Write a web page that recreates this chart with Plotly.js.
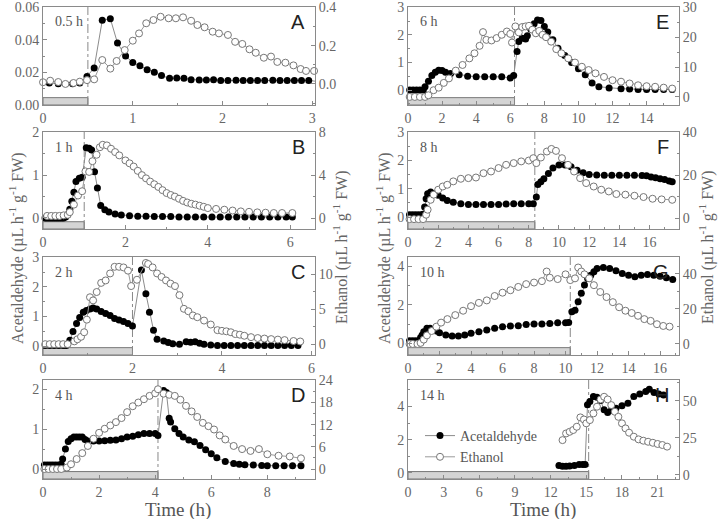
<!DOCTYPE html>
<html><head><meta charset="utf-8">
<script src="https://cdn.plot.ly/plotly-3.0.1.min.js"></script>
<style>html,body{margin:0;padding:0;background:#fff}#chart{width:720px;height:519px}</style>
</head><body><div id="chart"></div>
<script>
// ---------- DATA ----------
const panelLabels = ["A","B","C","D","E","F","G","H"];
const durationLabels = ["0.5 h","1 h","2 h","4 h","6 h","8 h","10 h","14 h"];
const treatmentEnd = [0.5, 1.0, 2.0, 4.1, 6.25, 8.4, 10.3, 15.2];

const tA_acet = [0.07,0.17,0.33,0.41,0.49,0.57,0.66,0.75,0.83,0.92,1.0,1.08,1.16,1.24,1.32,1.41,1.49,1.57,1.65,1.74,1.82,1.9,1.98,2.06,2.15,2.23,2.31,2.39,2.47,2.56,2.64,2.72,2.8,2.88,2.96,3.04];
const A_acet  = [0.0135,0.013,0.013,0.0135,0.0175,0.0227,0.052,0.053,0.038,0.030,0.026,0.024,0.0216,0.020,0.018,0.0163,0.0165,0.0163,0.0155,0.0153,0.0153,0.0155,0.015,0.015,0.0152,0.015,0.015,0.015,0.015,0.0152,0.015,0.015,0.015,0.015,0.015,0.0145];
const tA_eth  = [0.0,0.08,0.17,0.25,0.34,0.41,0.49,0.57,0.66,0.75,0.82,0.91,1.0,1.07,1.15,1.23,1.31,1.4,1.48,1.56,1.65,1.72,1.8,1.89,1.96,2.06,2.14,2.22,2.3,2.37,2.46,2.54,2.61,2.7,2.79,2.87,2.93,3.02,3.11];
const A_eth   = [0.009,0.017,0.01,0.0,0.005,0.012,0.02,0.024,0.125,0.08,0.12,0.177,0.226,0.264,0.317,0.334,0.351,0.343,0.343,0.348,0.33,0.308,0.296,0.273,0.264,0.256,0.22,0.209,0.181,0.163,0.137,0.143,0.115,0.111,0.097,0.078,0.068,0.068,0.066];

const tB_acet = [0.05,0.1,0.15,0.2,0.25,0.3,0.35,0.4,0.45,0.5,0.55,0.6,0.65,0.7,0.75,0.8,0.88,0.95,1.05,1.12,1.18,1.25,1.32,1.4,1.5,1.6,1.75,1.9,2.1,2.3,2.5,2.7,2.9,3.1,3.3,3.5,3.7,3.9,4.1,4.3,4.5,4.7,4.9,5.1,5.3,5.5,5.7,5.9,6.05];
const B_acet  = [0,0,0,0,0,0,0,0,0,0,0.02,0.08,0.2,0.39,0.6,0.85,0.93,0.95,1.64,1.63,1.59,1.08,0.7,0.29,0.19,0.14,0.09,0.07,0.05,0.04,0.04,0.03,0.03,0.03,0.02,0.02,0.02,0.02,0.02,0.02,0.02,0.02,0.02,0.02,0.02,0.02,0.02,0.02,0.02];
const tB_eth  = [0.1,0.2,0.3,0.4,0.5,0.6,0.65,0.75,0.85,0.95,1.03,1.12,1.2,1.3,1.38,1.45,1.55,1.65,1.75,1.85,2.0,2.1,2.2,2.3,2.4,2.5,2.6,2.7,2.8,2.9,3.0,3.1,3.2,3.3,3.4,3.5,3.6,3.7,3.8,3.9,4.0,4.2,4.4,4.6,4.8,5.0,5.2,5.4,5.6,5.8,6.05];
const B_eth   = [0.2,0.2,0.2,0.2,0.25,0.3,0.55,1.25,2.1,2.5,4.35,4.3,5.3,5.9,6.6,6.83,6.77,6.46,6.15,5.84,5.37,5.1,4.8,4.4,4.0,3.7,3.4,3.15,2.9,2.6,2.33,2.15,2.0,1.8,1.6,1.45,1.33,1.25,1.15,1.05,0.93,0.85,0.78,0.7,0.62,0.58,0.53,0.5,0.47,0.47,0.47];

const tC_acet = [0.05,0.15,0.25,0.35,0.45,0.52,0.6,0.67,0.75,0.82,0.9,0.97,1.05,1.12,1.2,1.3,1.4,1.5,1.6,1.7,1.8,1.9,2.0,2.2,2.3,2.38,2.47,2.55,2.7,2.8,2.9,3.05,3.2,3.3,3.4,3.5,3.6,3.75,3.9,4.05,4.2,4.35,4.5,4.65,4.8,4.95,5.1,5.25,5.4,5.55,5.7];
const C_acet  = [0.02,0.02,0.02,0.02,0.02,0.02,0.2,0.49,0.76,0.97,1.14,1.2,1.25,1.29,1.25,1.17,1.1,1.03,0.93,0.88,0.83,0.76,0.68,2.57,1.77,1.14,0.54,0.23,0.17,0.12,0.08,0.06,0.15,0.13,0.15,0.1,0.06,0.04,0.02,0.02,0.02,0.02,0.02,0.02,0.02,0.02,0.02,0.02,0.02,0.02,0.02];
const tC_eth  = [0.05,0.15,0.25,0.35,0.45,0.55,0.7,0.77,0.85,0.92,0.98,1.05,1.12,1.2,1.3,1.4,1.5,1.6,1.7,1.8,1.9,1.97,2.1,2.3,2.35,2.45,2.55,2.65,2.75,2.85,2.95,3.05,3.15,3.25,3.35,3.45,3.6,3.75,3.9,4.0,4.1,4.2,4.3,4.4,4.5,4.65,4.8,4.95,5.1,5.25,5.4,5.6,5.75];
const C_eth   = [0,0,0,0,0,0,0.4,0.7,1.05,1.7,3.5,6.7,6.25,7.45,8.75,9.1,10.1,11.05,11.05,10.96,10.5,8.3,9.2,11.6,11.45,10.96,10.1,9.6,9.1,8.65,8.3,7.0,5.05,4.7,4.1,3.85,3.37,2.8,2.0,1.9,1.83,1.7,1.44,1.35,1.2,1.0,0.87,0.8,0.72,0.65,0.58,0.45,0.38];

const tD_acet = [0.05,0.15,0.25,0.35,0.45,0.55,0.65,0.7,0.8,0.9,1.0,1.1,1.2,1.3,1.4,1.5,1.6,1.8,2.0,2.2,2.4,2.6,2.8,3.0,3.2,3.4,3.6,3.8,4.0,4.1,4.3,4.4,4.5,4.55,4.7,4.85,5.0,5.2,5.4,5.6,5.8,6.0,6.2,6.5,6.8,7.0,7.2,7.5,7.8,8.0,8.3,8.6,8.9,9.2];
const D_acet  = [0.1,0.1,0.1,0.1,0.1,0.1,0.12,0.25,0.5,0.69,0.76,0.8,0.8,0.8,0.8,0.74,0.7,0.7,0.7,0.71,0.72,0.73,0.76,0.8,0.82,0.86,0.89,0.89,0.89,0.84,1.97,1.92,1.27,1.18,1.01,0.89,0.8,0.73,0.68,0.59,0.48,0.38,0.28,0.19,0.14,0.12,0.11,0.1,0.09,0.08,0.08,0.08,0.08,0.08];
const tD_eth  = [0.05,0.2,0.35,0.5,0.65,0.85,1.0,1.2,1.4,1.6,1.8,2.0,2.2,2.4,2.6,2.8,3.0,3.2,3.4,3.6,3.8,4.0,4.1,4.3,4.5,4.7,4.9,5.1,5.3,5.5,5.7,5.9,6.1,6.3,6.5,6.8,7.1,7.4,7.7,8.0,8.4,8.8,9.2];
const D_eth   = [0,0,0,0,0,0.4,1.3,2.7,4.3,6.25,8.2,9.8,10.9,11.8,12.7,13.8,15.4,17,18,18.9,19.8,20.5,21.6,20.4,20.1,19.8,18.75,17.1,15.6,14.1,12.5,11.6,10.7,9.1,8.0,6.25,5.4,4.9,5.4,4.0,3.6,3.4,2.9];

const tE_acet = [0.1,0.3,0.5,0.7,0.9,1.0,1.2,1.4,1.6,1.8,2.0,2.2,2.5,3.0,3.5,4.0,4.5,5.0,5.5,6.0,6.2,6.4,6.5,6.7,6.9,7.0,7.2,7.4,7.6,7.8,8.0,8.2,8.5,8.8,9.2,9.6,10.0,10.4,10.8,11.2,11.8,12.5,13.0,13.5,14.0,14.5,15.0,15.5];
const E_acet  = [0,0,0,0,0,0.12,0.32,0.53,0.65,0.72,0.71,0.65,0.6,0.56,0.5,0.48,0.48,0.48,0.48,0.44,0.53,1.4,1.76,1.88,1.85,1.97,2.21,2.4,2.54,2.52,2.3,2.1,1.82,1.52,1.25,1.0,0.77,0.56,0.26,0.12,0.08,0.05,0.04,0.02,0.02,0.02,0.02,0.02];
const tE_eth  = [0.1,0.4,0.7,1.0,1.2,1.5,1.8,2.1,2.4,2.8,3.2,3.6,3.9,4.2,4.4,4.6,4.9,5.2,5.5,5.8,6.0,6.1,6.3,6.5,6.7,6.9,7.1,7.3,7.5,7.7,7.9,8.1,8.4,8.7,9.0,9.4,9.8,10.2,10.6,11.0,11.5,12.0,12.5,13.0,13.5,14.0,14.5,15.0,15.5];
const E_eth   = [0,0,0,0,0.56,2.25,3.1,4.7,6.2,8.8,10.7,12.9,14.6,17.1,21.7,19.1,18.9,19.7,20.8,21.9,21.1,18.2,23.6,21.6,23.4,23.6,23.8,22.5,21.3,22.1,20.8,20,18.5,16,14.6,12.9,11.5,10.1,9.0,7.9,6.7,5.6,5.1,4.5,3.9,3.6,3.4,3.1,2.8];

const tF_acet = [0.1,0.3,0.5,0.7,0.9,1.0,1.1,1.2,1.3,1.5,1.7,2.0,2.3,2.6,3.0,3.5,4.0,4.5,5.0,5.5,6.0,6.5,7.0,7.5,8.0,8.3,8.5,8.6,8.8,9.0,9.3,9.6,10.0,10.4,10.8,11.2,11.6,12.0,12.5,13.0,13.5,14.0,14.5,15.0,15.5,15.8,16.1,16.4,16.7,17.0,17.3,17.5];
const F_acet  = [0.08,0.08,0.08,0.08,0.08,0.1,0.36,0.65,0.83,0.89,0.83,0.77,0.68,0.59,0.53,0.47,0.45,0.45,0.45,0.45,0.45,0.46,0.47,0.47,0.47,0.47,0.71,1.15,1.25,1.36,1.54,1.74,1.84,1.84,1.78,1.66,1.57,1.51,1.49,1.48,1.48,1.48,1.48,1.48,1.47,1.46,1.42,1.39,1.36,1.33,1.28,1.25];
const tF_eth  = [0.1,0.4,0.7,1.0,1.2,1.3,1.5,1.7,2.0,2.3,2.6,3.0,3.5,4.0,4.5,5.0,5.5,6.0,6.5,7.0,7.5,8.0,8.3,8.5,8.8,9.2,9.5,9.8,10.2,10.6,11.0,11.4,11.8,12.3,12.8,13.3,13.8,14.4,15.0,15.6,16.2,16.8,17.5];
const F_eth   = [-0.5,-0.5,-0.5,-0.5,1.55,3.9,8.5,10.9,13.2,14.7,15.5,17.1,18.3,18.6,18.9,20.9,21.7,23.3,24.8,25.6,26.4,26.8,27.9,25.6,28.2,31,32.2,31.3,27.9,24.8,21.7,18.6,16.3,14.7,13.2,12.4,11.2,10.9,10.4,9.8,9.0,8.7,8.5];

const tG_acet = [0.1,0.3,0.5,0.7,0.8,0.9,1.0,1.2,1.4,1.6,1.8,2.0,2.4,2.8,3.2,3.6,4.0,4.5,5.0,5.5,6.0,6.5,7.0,7.5,8.0,8.5,9.0,9.5,10.0,10.2,10.4,10.6,10.8,11.0,11.2,11.4,11.6,11.8,12.0,12.4,12.8,13.2,13.6,14.0,14.4,14.8,15.2,15.6,16.0,16.4,16.8];
const G_acet  = [0.14,0.14,0.14,0.14,0.31,0.43,0.6,0.78,0.78,0.69,0.64,0.55,0.43,0.38,0.38,0.43,0.52,0.6,0.69,0.78,0.86,0.9,0.91,0.98,1.0,1.0,1.03,1.07,1.07,1.08,1.64,1.72,2.15,2.59,3.02,3.36,3.53,3.71,3.88,3.93,3.88,3.76,3.62,3.53,3.45,3.53,3.57,3.53,3.48,3.4,3.31];
const tG_eth  = [0.1,0.3,0.6,0.8,1.0,1.2,1.5,1.8,2.1,2.5,3.0,3.5,4.0,4.5,5.0,5.5,6.0,6.5,7.0,7.5,8.0,8.5,8.8,9.0,9.5,10.0,10.3,10.6,10.8,11.0,11.2,11.5,11.8,12.2,12.6,13.0,13.4,13.8,14.2,14.6,15.0,15.4,15.8,16.2,16.6];
const G_eth   = [0,0,0,0.6,2.5,4.9,7.4,9.9,12.2,14.2,16.5,19,21.6,23.5,24.9,27.4,29.3,30.7,32.6,34.2,35.1,35.9,41.4,37.9,37.1,39.8,36.5,37.5,43.7,41.4,39.8,37.5,33.6,29.7,26.8,23.9,21,19,17.7,16.1,14.2,13.2,11.3,10.3,9.9];

const tH_acet = [12.7,13.0,13.3,13.6,14.0,14.4,14.7,14.9,15.1,15.3,15.6,15.9,16.2,16.5,16.8,17.1,17.5,18.0,18.5,19.0,19.5,20.0,20.3,20.7,21.1,21.5];
const H_acet  = [0.44,0.4,0.4,0.42,0.44,0.5,0.5,0.5,4.1,4.3,4.6,4.56,4.36,3.8,3.64,3.76,3.9,4.04,4.2,4.6,4.76,4.9,5.04,4.84,4.76,4.7];
const tH_eth  = [13.0,13.3,13.6,13.9,14.2,14.5,14.8,15.0,15.3,15.6,15.9,16.2,16.5,16.8,17.1,17.4,17.7,18.0,18.3,18.6,19.0,19.4,19.8,20.2,20.6,21.0,21.4,21.8];
const H_eth   = [23.5,28,29.1,30.3,32.5,38.8,37.4,34.8,37,41.5,46,50.9,52.7,50.9,47.1,42.6,39.2,34.8,31.4,28.5,25.8,24,23.1,22.4,21.7,20.9,20.2,19.1];

const acetTimes = [tA_acet,tB_acet,tC_acet,tD_acet,tE_acet,tF_acet,tG_acet,tH_acet];
const acetVals  = [A_acet,B_acet,C_acet,D_acet,E_acet,F_acet,G_acet,H_acet];
const ethTimes  = [tA_eth,tB_eth,tC_eth,tD_eth,tE_eth,tF_eth,tG_eth,tH_eth];
const ethVals   = [A_eth,B_eth,C_eth,D_eth,E_eth,F_eth,G_eth,H_eth];

// ---------- LAYOUT CONFIG ----------
const W = 720, Hh = 519;
const colX = [[43,315],[408,679]];
const rowY = [[7,105],[132,229],[257,355],[380,479]];
const xRanges = [[0,3.03],[0,6.6],[0,6.08],[0,9.7],[0,15.9],[0,17.95],[0,17.2],[0,22.8]];
const xDt = [1,2,2,2,2,2,2,3];
const yLRanges = [[-0.0001,0.0602],[-0.26,2.01],[-0.3,3.01],[-0.25,2.23],[-0.54,3.01],[-0.42,3.01],[-0.6,4.47],[-0.37,5.6]];
const yLDt = [0.02,1,1,1,1,1,2,2];
const yRRanges = [[-0.11,0.402],[-1.02,8.02],[-1.55,12.45],[-2.7,24.1],[-2.7,30.1],[-5.1,40.1],[-6.3,49.7],[-2.7,64]];
const yRDt = [0.2,4,5,6,10,20,20,25];

const serif = "Liberation Serif, Times New Roman, serif";
const tickFont = {family: serif, size: 14, color: '#666'};
const axisCol = '#8a8a8a';

const layout = {
  width: W, height: Hh, margin: {l:0,r:0,t:0,b:0},
  paper_bgcolor: '#fff', plot_bgcolor: 'rgba(0,0,0,0)',
  showlegend: true,
  legend: {x: 420/W, y: 1-420/Hh, xanchor:'left', yanchor:'top', bgcolor:'rgba(0,0,0,0)',
           font:{family: serif, size: 14, color:'#555'}, tracegroupgap: 0, itemwidth: 30},
  shapes: [], annotations: []
};
const traces = [];

for (let k = 0; k < 8; k++) {
  const col = k < 4 ? 0 : 1, row = k % 4;
  const n = k + 1;
  const xKey = n === 1 ? 'xaxis' : 'xaxis' + n;
  const xId = n === 1 ? 'x' : 'x' + n;
  const yL = 2*k + 1, yR = 2*k + 2;
  const yLKey = yL === 1 ? 'yaxis' : 'yaxis' + yL;
  const yLId = yL === 1 ? 'y' : 'y' + yL;
  const yRKey = 'yaxis' + yR, yRId = 'y' + yR;
  const xd = [colX[col][0]/W, colX[col][1]/W];
  const yd = [1 - rowY[row][1]/Hh, 1 - rowY[row][0]/Hh];

  layout[xKey] = {domain: xd, range: xRanges[k], anchor: yLId, dtick: xDt[k], tick0: 0,
    showline: true, mirror: true, linecolor: axisCol, linewidth: 1,
    ticks: 'inside', ticklen: 4, tickcolor: axisCol,
    minor: {ticks: 'inside', ticklen: 2, tickcolor: axisCol, dtick: xDt[k]/2},
    showgrid: false, zeroline: false, tickfont: tickFont};
  layout[yLKey] = {domain: yd, range: yLRanges[k], anchor: xId, dtick: yLDt[k], tick0: 0,
    tickformat: k === 0 ? '.2f' : '', showline: true, linecolor: axisCol, linewidth: 1,
    ticks: 'inside', ticklen: 4, tickcolor: axisCol,
    minor: {ticks: 'inside', ticklen: 2, tickcolor: axisCol, dtick: yLDt[k]/2},
    showgrid: false, zeroline: false, tickfont: tickFont};
  layout[yRKey] = {overlaying: yLId, side: 'right', anchor: xId, range: yRRanges[k], dtick: yRDt[k], tick0: 0,
    tickformat: k === 0 ? '.1f' : '', showline: true, linecolor: axisCol, linewidth: 1,
    ticks: 'inside', ticklen: 4, tickcolor: axisCol,
    minor: {ticks: 'inside', ticklen: 2, tickcolor: axisCol, dtick: yRDt[k]/2},
    showgrid: false, zeroline: false, tickfont: tickFont};

  // treatment bar + end-of-treatment line
  layout.shapes.push({type:'rect', xref: xId, yref: yLId + ' domain', x0: 0, x1: treatmentEnd[k], y0: 0, y1: 0.075,
    fillcolor: '#d4d4d4', line: {color: '#777', width: 1}, layer: 'below'});
  layout.shapes.push({type:'line', xref: xId, yref: yLId + ' domain', x0: treatmentEnd[k], x1: treatmentEnd[k], y0: 0, y1: 1,
    line: {color: '#888', width: 1, dash: 'dashdot'}, layer: 'below'});

  // panel letter & duration label
  layout.annotations.push({xref:'paper', yref:'paper', x: (colX[col][1]-8)/W, y: 1-(rowY[row][0]+15)/Hh,
    xanchor:'right', yanchor:'middle', showarrow:false, text: panelLabels[k],
    font:{family:'Liberation Sans, Arial, sans-serif', size: 20, color:'#222'}});
  layout.annotations.push({xref:'paper', yref:'paper', x: (colX[col][0]+10)/W, y: 1-(rowY[row][0]+15)/Hh,
    xanchor:'left', yanchor:'middle', showarrow:false, text: durationLabels[k],
    font:{family: serif, size: 14, color:'#555'}});

  traces.push({type:'scatter', mode:'lines+markers', x: acetTimes[k], y: acetVals[k], xaxis: xId, yaxis: yLId,
    name: 'Acetaldehyde', showlegend: k === 7, legendrank: 1, cliponaxis: false,
    line: {color: '#8c8c8c', width: 1}, marker: {symbol:'circle', size: 7, color: '#000'}});
  traces.push({type:'scatter', mode:'lines+markers', x: ethTimes[k], y: ethVals[k], xaxis: xId, yaxis: yRId,
    name: 'Ethanol', showlegend: k === 7, legendrank: 2, cliponaxis: false,
    line: {color: '#9a9a9a', width: 1}, marker: {symbol:'circle', size: 7, color: '#fff', line: {color:'#777', width: 1}}});
}

// axis titles
const accTitle = 'Acetaldehyde (µL h<sup>-1</sup> g<sup>-1</sup> FW)';
const ethTitle = 'Ethanol (µL h<sup>-1</sup> g<sup>-1</sup> FW)';
const titleFont = {family: serif, size: 16, color: '#666'};
[[16, accTitle],[340, ethTitle],[383, accTitle],[706, ethTitle]].forEach(([px, txt]) => {
  layout.annotations.push({xref:'paper', yref:'paper', x: px/W, y: 1-248/Hh, xanchor:'center', yanchor:'middle',
    textangle: -90, showarrow: false, text: txt, font: titleFont});
});
[[178],[543]].forEach(([px]) => {
  layout.annotations.push({xref:'paper', yref:'paper', x: px/W, y: 1-510/Hh, xanchor:'center', yanchor:'middle',
    showarrow: false, text: 'Time (h)', font: {family: serif, size: 19, color: '#555'}});
});

Plotly.newPlot('chart', traces, layout, {staticPlot: true, displayModeBar: false});
</script>
</body></html>
